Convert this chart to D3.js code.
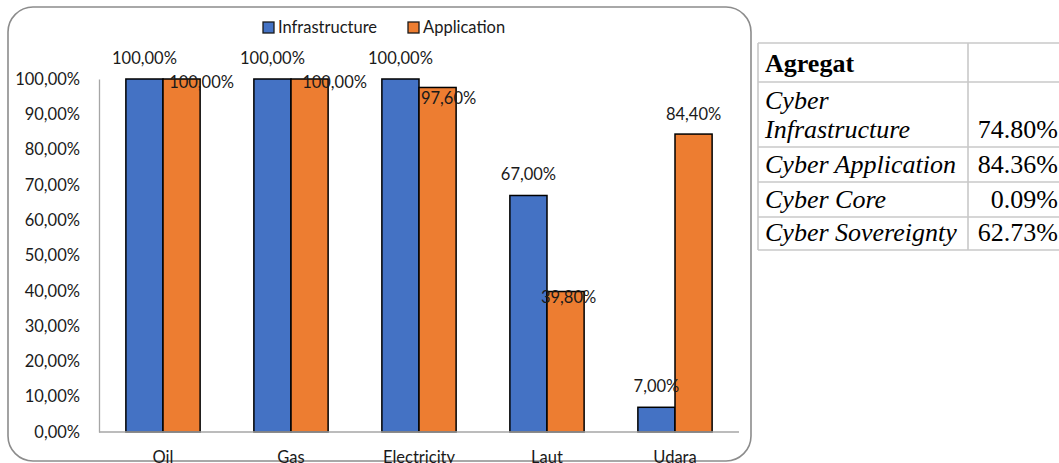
<!DOCTYPE html>
<html>
<head>
<meta charset="utf-8">
<script src="https://cdn.jsdelivr.net/npm/d3@7"></script>
<style>
body { margin: 0; background: #fff; }
svg { display: block; }
</style>
</head>
<body>
<script>
// data
var categories = ['Oil', 'Gas', 'Electricity', 'Laut', 'Udara'];
var series_names = ['Infrastructure', 'Application'];
var infrastructure = [1.00, 1.00, 1.00, 0.67, 0.07];
var application = [1.00, 1.00, 0.976, 0.398, 0.844];
var y_ticks = [0, 0.1, 0.2, 0.3, 0.4, 0.5, 0.6, 0.7, 0.8, 0.9, 1.0];

var table_head = ['Agregat', ''];
var table_labels = [['Cyber', 'Infrastructure'], ['Cyber Application'], ['Cyber Core'], ['Cyber Sovereignty']];
var table_values = ['74.80%', '84.36%', '0.09%', '62.73%'];

var colors = ['#4472C4', '#ED7D31'];
// the application labels were moved by hand in the original chart
var app_label_shift = [[20, 3], [25, 3], [11, 11], [3, 6], [0, -20]];

var W = 1059, H = 463;
var FONT = 'Lato, "Open Sans", sans-serif';
var FS = 16.5;

var loc = d3.formatLocale({decimal: ',', thousands: '.', grouping: [3], currency: ['', '']});
var pct = loc.format('.2%');

var svg = d3.select('body').append('svg').attr('width', W).attr('height', H);

// frame
svg.append('rect')
	.attr('x', 8).attr('y', 7)
	.attr('width', 743).attr('height', 454)
	.attr('rx', 25).attr('ry', 25)
	.attr('fill', '#fff')
	.attr('stroke', '#8c8c8c')
	.attr('stroke-width', 1.6);

var p_left = 99, p_right = 739, p_top = 79, p_bottom = 432;

var x0 = d3.scaleBand().domain(categories).range([p_left, p_right]).paddingInner(0.42).paddingOuter(0.21);
var x1 = d3.scaleBand().domain(series_names).range([0, x0.bandwidth()]);
var y = d3.scaleLinear().domain([0, 1]).range([p_bottom, p_top]);

// y axis
var ya = svg.append('g')
	.attr('transform', 'translate(' + p_left + ',0)')
	.call(d3.axisLeft(y).tickValues(y_ticks).tickFormat(pct).tickSize(0).tickPadding(19));
ya.select('.domain').attr('stroke', '#a6a6a6').attr('stroke-width', 1.3);
ya.selectAll('text')
	.attr('font-family', FONT).attr('font-size', FS).attr('fill', '#1a1a1a');

// bars
var rows = categories.map(function(c, i) {
	return {cat: c, i: i, vals: [infrastructure[i], application[i]]};
});

var groups = svg.append('g').selectAll('g').data(rows).enter().append('g')
	.attr('transform', function(d) { return 'translate(' + x0(d.cat) + ',0)'; });

groups.selectAll('rect')
	.data(function(d) { return d.vals.map(function(v, k) { return {v: v, k: k}; }); })
	.enter().append('rect')
	.attr('x', function(d) { return x1(series_names[d.k]); })
	.attr('y', function(d) { return y(d.v); })
	.attr('width', x1.bandwidth())
	.attr('height', function(d) { return p_bottom - y(d.v); })
	.attr('fill', function(d) { return colors[d.k]; })
	.attr('stroke', '#000')
	.attr('stroke-width', 1.5);

// baseline
svg.append('line')
	.attr('x1', p_left).attr('x2', p_right)
	.attr('y1', p_bottom).attr('y2', p_bottom)
	.attr('stroke', '#a6a6a6').attr('stroke-width', 1.3);

// data labels
groups.append('text')
	.attr('x', x1('Infrastructure') + x1.bandwidth() / 2)
	.attr('y', function(d) { return y(d.vals[0]) - 21; })
	.attr('dy', '0.35em')
	.attr('text-anchor', 'middle')
	.attr('font-family', FONT).attr('font-size', FS).attr('fill', '#1a1a1a')
	.text(function(d) { return pct(d.vals[0]); });

groups.append('text')
	.attr('x', function(d) { return x1('Application') + x1.bandwidth() / 2 + app_label_shift[d.i][0]; })
	.attr('y', function(d) { return y(d.vals[1]) + app_label_shift[d.i][1]; })
	.attr('dy', '0.35em')
	.attr('text-anchor', 'middle')
	.attr('font-family', FONT).attr('font-size', FS).attr('fill', '#1a1a1a')
	.text(function(d) { return pct(d.vals[1]); });

// category labels
svg.append('g').selectAll('text').data(categories).enter().append('text')
	.attr('x', function(d) { return x0(d) + x0.bandwidth() / 2; })
	.attr('y', 463)
	.attr('text-anchor', 'middle')
	.attr('font-family', FONT).attr('font-size', FS).attr('fill', '#1a1a1a')
	.text(function(d) { return d; });

// legend
var leg_x = [263, 408];
var leg = svg.append('g').selectAll('g').data(series_names).enter().append('g')
	.attr('transform', function(d, i) { return 'translate(' + leg_x[i] + ',22)'; });
leg.append('rect')
	.attr('width', 11).attr('height', 11)
	.attr('fill', function(d, i) { return colors[i]; })
	.attr('stroke', '#1a1a1a').attr('stroke-width', 1.3);
leg.append('text')
	.attr('x', 15).attr('y', 5.5).attr('dy', '0.35em')
	.attr('font-family', FONT).attr('font-size', FS).attr('fill', '#1a1a1a')
	.text(function(d) { return d; });

// table on the right
var SERIF = '"Liberation Serif", "Times New Roman", serif';
var TFS = 26;
var tx0 = 758, tx1 = 968, tx2 = 1062;
var row_y = [43, 82, 147, 182, 217, 250];
var tg = svg.append('g');
var grid = '#c8c8c8';

row_y.forEach(function(ry) {
	tg.append('line').attr('x1', tx0).attr('x2', tx2).attr('y1', ry).attr('y2', ry)
		.attr('stroke', grid).attr('stroke-width', 1.6);
});
[tx0, tx1].forEach(function(cx) {
	tg.append('line').attr('x1', cx).attr('x2', cx).attr('y1', row_y[0]).attr('y2', row_y[row_y.length - 1])
		.attr('stroke', grid).attr('stroke-width', 1.6);
});

tg.append('text')
	.attr('x', tx0 + 7).attr('y', row_y[1] - 10)
	.attr('font-family', SERIF).attr('font-size', TFS).attr('font-weight', 'bold').attr('fill', '#000')
	.text(table_head[0]);

table_labels.forEach(function(lines, i) {
	var yb = row_y[i + 2] - 9;
	lines.forEach(function(t, j) {
		tg.append('text')
			.attr('x', tx0 + 7).attr('y', yb - (lines.length - 1 - j) * 29)
			.attr('font-family', SERIF).attr('font-size', TFS).attr('font-style', 'italic').attr('fill', '#000')
			.text(t);
	});
	tg.append('text')
		.attr('x', 1058).attr('y', yb)
		.attr('text-anchor', 'end')
		.attr('font-family', SERIF).attr('font-size', TFS).attr('fill', '#000')
		.text(table_values[i]);
});
</script>
</body>
</html>
